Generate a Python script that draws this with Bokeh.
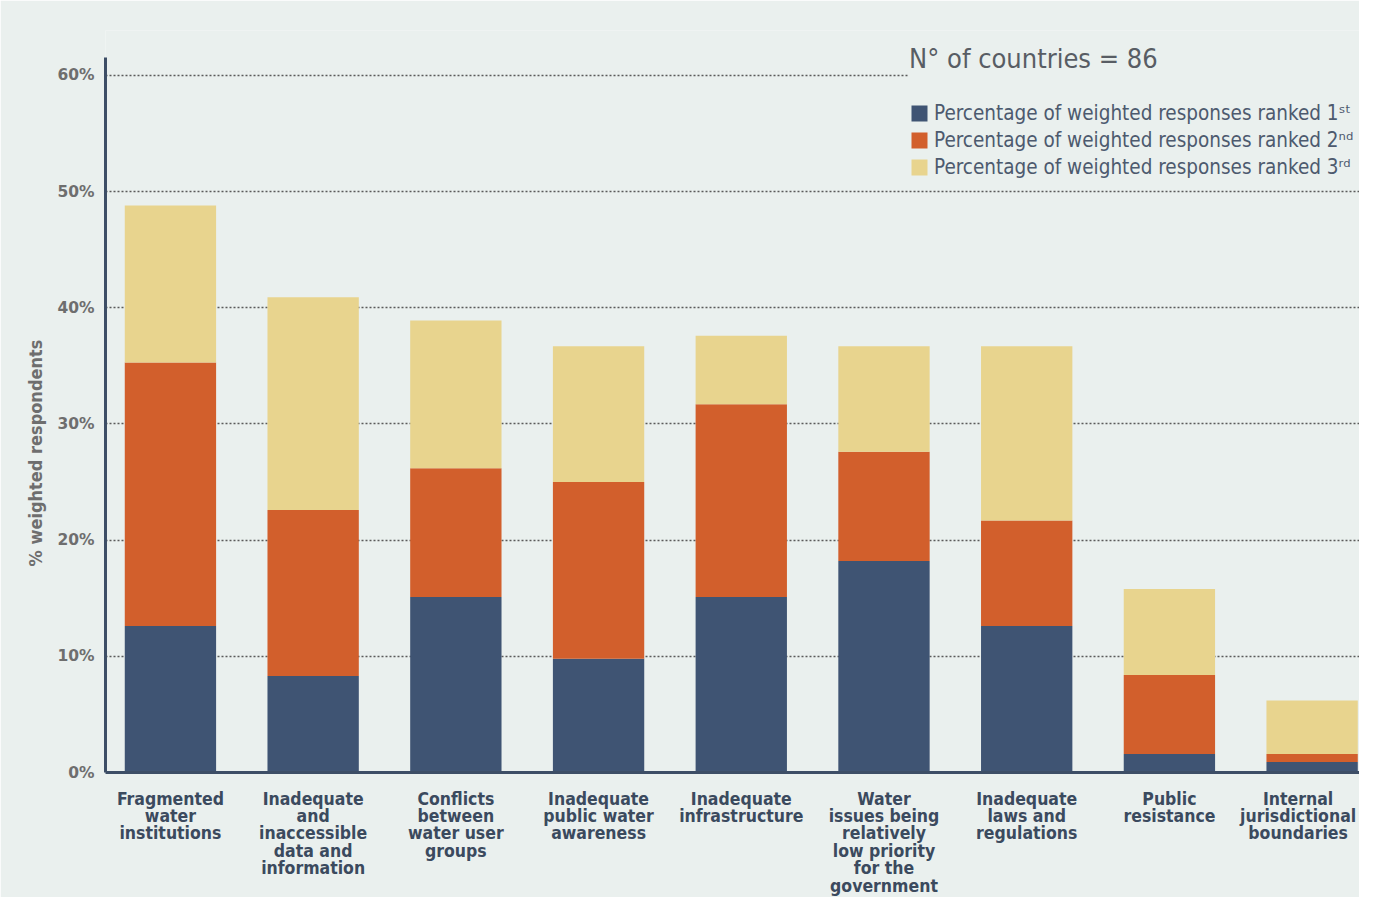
import math
from bokeh.plotting import figure
from bokeh.models import (ColumnDataSource, FixedTicker, Legend, LegendItem,
                          Range1d, PrintfTickFormatter)
from bokeh.core.properties import value
from bokeh.embed import file_html
from bokeh.resources import INLINE

# ---------------- data ----------------
categories = [
    "Fragmented\nwater\ninstitutions",
    "Inadequate\nand\ninaccessible\ndata and\ninformation",
    "Conflicts\nbetween\nwater user\ngroups",
    "Inadequate\npublic water\nawareness",
    "Inadequate\ninfrastructure",
    "Water\nissues being\nrelatively\nlow priority\nfor the\ngovernment",
    "Inadequate\nlaws and\nregulations",
    "Public\nresistance",
    "Internal\njurisdictional\nboundaries",
]
rank1 = [12.6, 8.3, 15.1, 9.8, 15.1, 18.2, 12.6, 1.6, 0.9]
rank2 = [22.7, 14.3, 11.1, 15.2, 16.6, 9.4, 9.1, 6.8, 0.7]
rank3 = [13.5, 18.3, 12.7, 11.7, 5.9, 9.1, 15.0, 7.4, 4.6]
series_labels = [
    "Percentage of weighted responses ranked 1ˢᵗ",
    "Percentage of weighted responses ranked 2ⁿᵈ",
    "Percentage of weighted responses ranked 3ʳᵈ",
]
y_ticks = [0, 10, 20, 30, 40, 50, 60]
legend_title = "N° of countries = 86"
y_title = "% weighted respondents"

# ---------------- style / layout ----------------
BG = "#EAF0EE"
COLORS = ["#3F5473", "#D25F2C", "#E8D48E"]
AXIS = "#3D4E66"
FONT = "DejaVu Sans Condensed"
LINE_STEP = 17.4      # px between label lines
FIRST_LINE = 26       # px from axis to first label line centre
EDGE_SHIFT = -14      # keep the right-most label inside the canvas
YTITLE_POS = 27.5     # data-y where the rotated axis title is centred

idx = list(range(len(categories)))
source = ColumnDataSource(dict(x=idx, r1=rank1, r2=rank2, r3=rank3))

# one row per label line so the line spacing can be tight
line_x, line_text, line_off, line_dx = [], [], [], []
for i, c in enumerate(categories):
    for k, t in enumerate(c.split("\n")):
        line_x.append(i)
        line_text.append(t)
        line_off.append(FIRST_LINE + LINE_STEP * k)
        line_dx.append(EDGE_SHIFT if i == len(categories) - 1 else 0)
lab_src = ColumnDataSource(dict(x=line_x, y=[0] * len(line_x),
                                text=line_text, off=line_off, dx=line_dx))

x_start = -0.455
p = figure(width=1359, height=897, output_backend="svg", toolbar_location=None,
           x_range=Range1d(x_start, 8.332), y_range=Range1d(0, 63.87),
           background_fill_color=BG, border_fill_color=BG,
           min_border_left=105, min_border_right=0,
           min_border_top=30, min_border_bottom=125)
p.outline_line_color = None

renderers = p.vbar_stack(["r1", "r2", "r3"], x="x", width=0.64, source=source,
                         fill_color=COLORS, line_color=None)

lab = p.text(x="x", y="y", text="text", y_offset="off", x_offset="dx",
             source=lab_src, text_align="center", text_baseline="middle",
             text_font=value(FONT), text_font_style="bold",
             text_font_size="17.5px", text_color="#3B4A5E")
lab.level = "annotation"

# rotated y-axis title
yt = p.text(x=[x_start], y=[YTITLE_POS], text=[y_title], x_offset=-70,
            angle=math.pi / 2, text_align="center", text_baseline="middle",
            text_font=value(FONT), text_font_style="bold",
            text_font_size="18px", text_color="#6E6E6E")
yt.level = "annotation"

# grid
p.xgrid.grid_line_color = None
p.ygrid.ticker = FixedTicker(ticks=y_ticks)
p.ygrid.grid_line_color = "#5A5A5A"
p.ygrid.grid_line_dash = "2 2"
p.ygrid.grid_line_width = 1.5

# x axis (line only)
p.xaxis.ticker = FixedTicker(ticks=[])
p.xaxis.major_tick_line_color = None
p.xaxis.minor_tick_line_color = None
p.xaxis.axis_line_color = AXIS
p.xaxis.axis_line_width = 3

# y axis
p.yaxis.ticker = FixedTicker(ticks=y_ticks)
p.yaxis.bounds = (0, 61.55)
p.yaxis.formatter = PrintfTickFormatter(format="%d%%")
p.yaxis.major_tick_line_color = None
p.yaxis.minor_tick_line_color = None
p.yaxis.axis_line_color = AXIS
p.yaxis.axis_line_width = 3
p.yaxis.major_label_standoff = 5
p.yaxis.major_label_text_font = "DejaVu Sans"
p.yaxis.major_label_text_font_style = "bold"
p.yaxis.major_label_text_font_size = "15.5px"
p.yaxis.major_label_text_color = "#6E6E6E"

# legend
items = [LegendItem(label=lab_, renderers=[r]) for lab_, r in zip(series_labels, renderers)]
legend = Legend(items=items, location=(804, 593),
                title=legend_title,
                title_text_font=FONT, title_text_font_size="27px",
                title_text_color="#585D64", title_text_font_style="normal",
                title_standoff=27,
                label_text_font=FONT, label_text_font_size="20.5px",
                label_text_color="#4D5A6E", label_standoff=5,
                glyph_width=20, glyph_height=20, label_height=21,
                label_width=440,
                spacing=3, padding=0, margin=0,
                border_line_color=None,
                background_fill_color=BG, background_fill_alpha=1.0)
p.add_layout(legend, "center")

open("out.html", "w").write(file_html(p, INLINE))
